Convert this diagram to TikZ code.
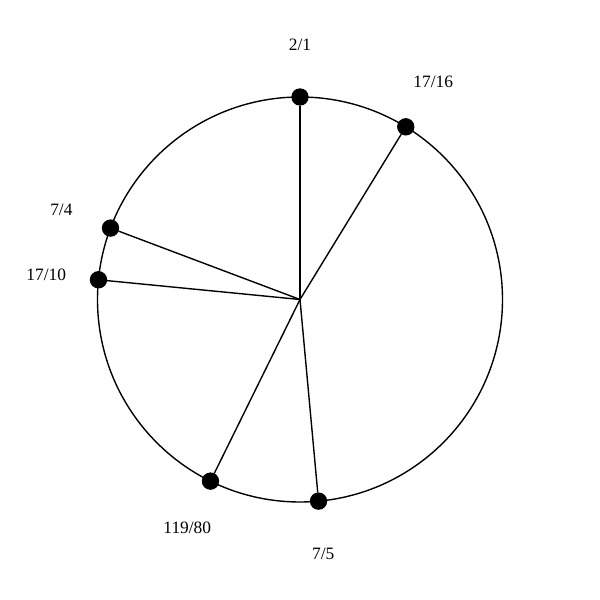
\documentclass[tikz,border=0pt]{standalone}
\usepackage{fontspec}
\setmainfont{Liberation Serif}
\usetikzlibrary{arrows,shapes,calc}

\tikzset{
  pt/.style = {draw, fill = black, circle, inner sep = 0pt, minimum size = 11.5pt},
  ratio/.style = {font = \fontsize{12.5}{14}\selectfont}
}

\begin{document}
\begin{tikzpicture}[x=0.72pt, y=0.72pt, line width=1pt]
  \useasboundingbox (0,0) rectangle (600,600);

  \coordinate (o) at (300,300.5);
  \draw (o) circle (202.5);

  % ratios on the circle, angle = 90 - 360*log2(r)
  \foreach \name/\ang/\txt in {a/90/2\slash1, b/58.51/17\slash16, c/-84.75/7\slash5,
      d/-116.24/119\slash80, e/174.41/17\slash10, f/159.35/7\slash4}{
    \node[pt] (\name) at ($(o)+(\ang:202.5)$) {};
    \node[ratio] (\name l) at ($(o)+(\ang:255)$) {\txt};
    \draw (o) -- (\name);
  }

\end{tikzpicture}
\end{document}
